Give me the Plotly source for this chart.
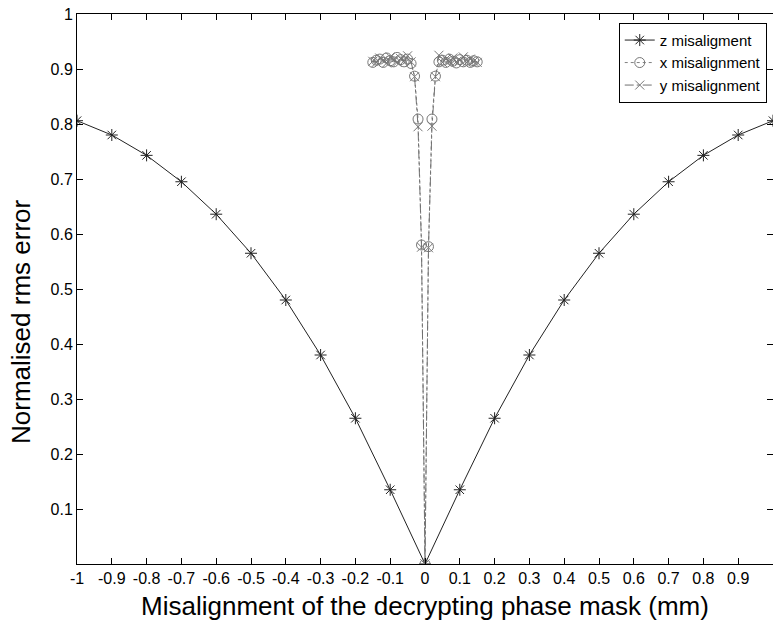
import plotly.graph_objects as go

# z misalignment
z_x = [-1.0, -0.9, -0.8, -0.7, -0.6, -0.5, -0.4, -0.3, -0.2, -0.1, 0.0,
       0.1, 0.2, 0.3, 0.4, 0.5, 0.6, 0.7, 0.8, 0.9, 1.0]
z_y = [0.806, 0.780, 0.743, 0.695, 0.636, 0.565, 0.480, 0.380, 0.265, 0.135, 0.0,
       0.135, 0.265, 0.380, 0.480, 0.565, 0.636, 0.695, 0.743, 0.780, 0.806]

# x misalignment
xm_x = [-0.15, -0.14, -0.13, -0.12, -0.11, -0.10, -0.09, -0.08, -0.07, -0.06, -0.05, -0.04,
        -0.03, -0.02, -0.01, 0.0, 0.01, 0.02, 0.03,
        0.04, 0.05, 0.06, 0.07, 0.08, 0.09, 0.10, 0.11, 0.12, 0.13, 0.14, 0.15]
xm_y = [0.912, 0.916, 0.918, 0.912, 0.920, 0.915, 0.913, 0.921, 0.917, 0.913, 0.918, 0.910,
        0.887, 0.809, 0.580, 0.0, 0.577, 0.809, 0.887,
        0.913, 0.916, 0.912, 0.918, 0.914, 0.911, 0.917, 0.913, 0.916, 0.912, 0.915, 0.913]

# y misalignment
ym_x = [-0.15, -0.14, -0.13, -0.12, -0.11, -0.10, -0.09, -0.08, -0.07, -0.06, -0.05, -0.04,
        -0.03, -0.02, -0.01, 0.0, 0.01, 0.02, 0.03,
        0.04, 0.05, 0.06, 0.07, 0.08, 0.09, 0.10, 0.11, 0.12, 0.13, 0.14, 0.15]
ym_y = [0.914, 0.912, 0.920, 0.916, 0.911, 0.922, 0.917, 0.912, 0.919, 0.915, 0.924, 0.913,
        0.886, 0.795, 0.576, 0.0, 0.575, 0.796, 0.886,
        0.925, 0.912, 0.918, 0.914, 0.920, 0.913, 0.916, 0.922, 0.912, 0.918, 0.914, 0.912]

x_ticks = [-1.0, -0.9, -0.8, -0.7, -0.6, -0.5, -0.4, -0.3, -0.2, -0.1, 0.0,
           0.1, 0.2, 0.3, 0.4, 0.5, 0.6, 0.7, 0.8, 0.9, 1.0]
x_labels = ["-1", "-0.9", "-0.8", "-0.7", "-0.6", "-0.5", "-0.4", "-0.3", "-0.2", "-0.1", "0",
            "0.1", "0.2", "0.3", "0.4", "0.5", "0.6", "0.7", "0.8", "0.9", "1"]
y_ticks = [0.1, 0.2, 0.3, 0.4, 0.5, 0.6, 0.7, 0.8, 0.9, 1.0]
y_labels = ["0.1", "0.2", "0.3", "0.4", "0.5", "0.6", "0.7", "0.8", "0.9", "1"]

x_title = "Misalignment of the decrypting phase mask (mm)"
y_title = "Normalised rms error"

FONT = "Liberation Sans, Arial, sans-serif"

fig = go.Figure()
fig.add_trace(go.Scatter(
    x=z_x, y=z_y, name="z misaligment", mode="lines+markers",
    line=dict(color="#222222", width=1),
    marker=dict(symbol="asterisk-open", size=10, line=dict(color="#222222", width=1)),
))
fig.add_trace(go.Scatter(
    x=xm_x, y=xm_y, name="x misalignment", mode="lines+markers",
    line=dict(color="#808080", width=1, dash="dot"),
    marker=dict(symbol="circle-open", size=10, color="#777777", line=dict(color="#777777", width=1)),
))
fig.add_trace(go.Scatter(
    x=ym_x, y=ym_y, name="y misalignment", mode="lines+markers",
    line=dict(color="#707070", width=1, dash="dashdot"),
    marker=dict(symbol="x-thin-open", size=9, color="#777777", line=dict(color="#777777", width=1)),
))

axis_common = dict(
    showgrid=False, zeroline=False, showline=True, linecolor="#000000", linewidth=1,
    mirror="ticks", ticks="inside", ticklen=6, tickcolor="#000000",
    tickfont=dict(family=FONT, size=16, color="#000000"),
)

fig.update_layout(
    width=773, height=632,
    margin=dict(l=77, r=0, t=14, b=68),
    paper_bgcolor="white", plot_bgcolor="white",
    font=dict(family=FONT, color="#000000"),
    xaxis=dict(range=[-1, 1], tickvals=x_ticks, ticktext=x_labels,
               title=dict(text=x_title, font=dict(size=26), standoff=10),
               **axis_common),
    yaxis=dict(range=[0, 1], tickvals=y_ticks, ticktext=y_labels,
               **axis_common),
    legend=dict(x=0.991, y=0.984, xanchor="right", yanchor="top",
                bordercolor="#000000", borderwidth=1, bgcolor="white",
                font=dict(size=15), itemwidth=30, tracegroupgap=0),
    showlegend=True,
    annotations=[dict(
        text=y_title, textangle=-90, showarrow=False,
        xref="paper", yref="paper", x=-0.0805, y=0.44,
        xanchor="center", yanchor="middle",
        font=dict(family=FONT, size=26, color="#000000"),
    )],
)

fig.write_html("out.html")
